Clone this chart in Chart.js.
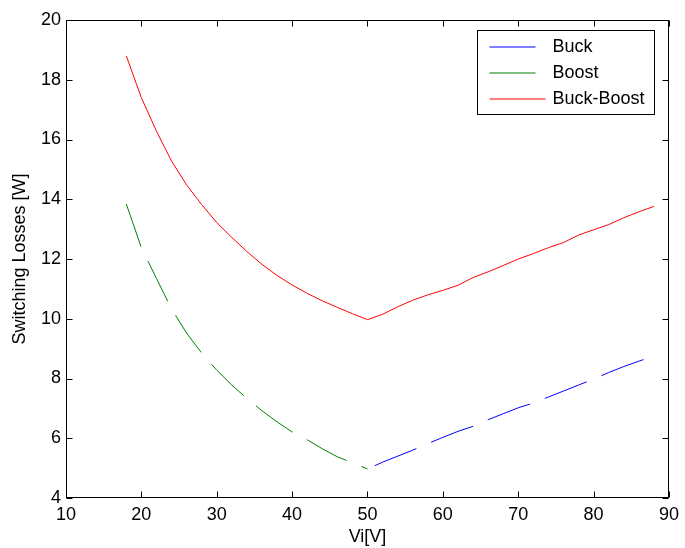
<!DOCTYPE html>
<html>
<head>
<meta charset="utf-8">
<script src="https://cdn.jsdelivr.net/npm/chart.js@4"></script>
<style>
  body { margin: 0; background: #fff; }
</style>
</head>
<body>
<canvas id="line-chart" width="685" height="548"></canvas>
<script>
// Vi [V] samples
var viAll   = [18,20,22,24,26,28,30,32,34,36,38,40,42,44,46,48,50,52,54,56,58,60,62,64,66,68,70,72,74,76,78,80,82,84,86,88];
var viLeft  = [18,20,22,24,26,28,30,32,34,36,38,40,42,44,46,48,50];
var viRight = [50,52,54,56,58,60,62,64,66,68,70,72,74,76,78,80,82,84,86,88];

// switching losses [W]
var buck      = [4.97,5.20,5.40,5.60,5.82,6.03,6.23,6.40,6.62,6.82,7.02,7.18,7.38,7.58,7.78,7.98,8.20,8.40,8.58,8.75];
var boost     = [13.84,12.38,11.35,10.33,9.52,8.85,8.28,7.78,7.33,6.92,6.55,6.21,5.95,5.65,5.38,5.18,4.97];
var buckBoost = [18.80,17.40,16.28,15.28,14.48,13.82,13.22,12.72,12.25,11.82,11.45,11.13,10.85,10.60,10.38,10.17,9.97,
                 10.15,10.40,10.62,10.80,10.95,11.12,11.38,11.57,11.78,12.00,12.18,12.38,12.55,12.80,12.98,13.15,13.38,13.58,13.76];

var seriesNames  = ["Buck", "Boost", "Buck-Boost"];
var seriesColors = ["#0000ff", "#008000", "#ff0000"];

var xTicks = [10,20,30,40,50,60,70,80,90];
var yTicks = [4,6,8,10,12,14,16,18,20];

function pts(xs, ys) {
  return xs.map(function (x, i) { return { x: x, y: ys[i] }; });
}

var FONT = { family: "'Liberation Sans', Arial, Helvetica, sans-serif", size: 18 };

// matlab style box with inward ticks + legend inside axes
var matlabBox = {
  id: 'matlabBox',
  afterDraw: function (chart) {
    var ctx = chart.ctx, a = chart.chartArea;
    var xs = chart.scales.x, ys = chart.scales.y;
    var L = Math.round(a.left) + 0.5, R = Math.round(a.right) - 0.5;
    var T = Math.round(a.top) + 0.5, B = Math.round(a.bottom) - 0.5;
    ctx.save();
    ctx.setLineDash([]);
    ctx.strokeStyle = '#000';
    ctx.lineWidth = 1;
    ctx.beginPath();
    xTicks.forEach(function (v) {
      var p = Math.round(xs.getPixelForValue(v)) + 0.5;
      ctx.moveTo(p, B); ctx.lineTo(p, B - 6);
      ctx.moveTo(p, T); ctx.lineTo(p, T + 6);
    });
    yTicks.forEach(function (v) {
      var p = Math.round(ys.getPixelForValue(v)) + 0.5;
      ctx.moveTo(L, p); ctx.lineTo(L + 6, p);
      ctx.moveTo(R, p); ctx.lineTo(R - 6, p);
    });
    ctx.stroke();
    ctx.strokeRect(L, T, R - L, B - T);

    // legend
    var bx = Math.round(a.right) - 191.5, by = Math.round(a.top) + 10.5;
    ctx.fillStyle = '#fff';
    ctx.fillRect(bx, by, 177, 84);
    ctx.strokeStyle = '#000';
    ctx.strokeRect(bx, by, 177, 84);
    ctx.font = FONT.size + 'px ' + FONT.family;
    ctx.textBaseline = 'middle';
    ctx.textAlign = 'left';
    var lens = [46, 46, 56];
    for (var i = 0; i < seriesNames.length; i++) {
      var y = Math.round(by + 16 + i * 26);
      ctx.beginPath();
      ctx.strokeStyle = seriesColors[i];
      ctx.lineWidth = 1.2;
      ctx.moveTo(bx + 12, y);
      ctx.lineTo(bx + 12 + lens[i], y);
      ctx.stroke();
      ctx.fillStyle = '#000';
      ctx.fillText(seriesNames[i], bx + 75, y + 0.5);
    }
    ctx.restore();
  }
};

new Chart(document.getElementById("line-chart"), {
  type: 'line',
  data: {
    datasets: [{
        data: pts(viRight, buck),
        label: seriesNames[0],
        borderColor: seriesColors[0],
        borderWidth: 1,
        borderDash: [45, 16],
        borderDashOffset: 53,
        pointRadius: 0,
        tension: 0,
        fill: false
      }, {
        data: pts(viLeft, boost),
        label: seriesNames[1],
        borderColor: seriesColors[1],
        borderWidth: 1,
        borderDash: [45, 16],
        pointRadius: 0,
        tension: 0,
        fill: false
      }, {
        data: pts(viAll, buckBoost),
        label: seriesNames[2],
        borderColor: seriesColors[2],
        borderWidth: 1,
        pointRadius: 0,
        tension: 0,
        fill: false
      }
    ]
  },
  options: {
    responsive: false,
    animation: false,
    layout: { padding: { top: 20, right: 10, left: 0, bottom: 0 } },
    plugins: {
      legend: { display: false },
      tooltip: { enabled: false }
    },
    scales: {
      x: {
        type: 'linear',
        min: 10, max: 90,
        afterFit: function (s) { s.height = 50; },
        afterBuildTicks: function (s) { s.ticks = xTicks.map(function (v) { return { value: v }; }); },
        grid: { display: false, drawTicks: false },
        border: { display: false },
        ticks: { color: '#000', font: FONT, padding: 6, maxRotation: 0 },
        title: { display: true, text: 'Vi[V]', color: '#000', font: FONT, padding: { top: 0, bottom: 0 } }
      },
      y: {
        type: 'linear',
        min: 4, max: 20,
        afterFit: function (s) { s.width = 66; },
        afterBuildTicks: function (s) { s.ticks = yTicks.map(function (v) { return { value: v }; }); },
        grid: { display: false, drawTicks: false },
        border: { display: false },
        ticks: { color: '#000', font: FONT, padding: 5 },
        title: { display: true, text: 'Switching Losses [W]', color: '#000', font: FONT, padding: { top: 9, bottom: 0 } }
      }
    }
  },
  plugins: [matlabBox]
});
</script>
</body>
</html>
